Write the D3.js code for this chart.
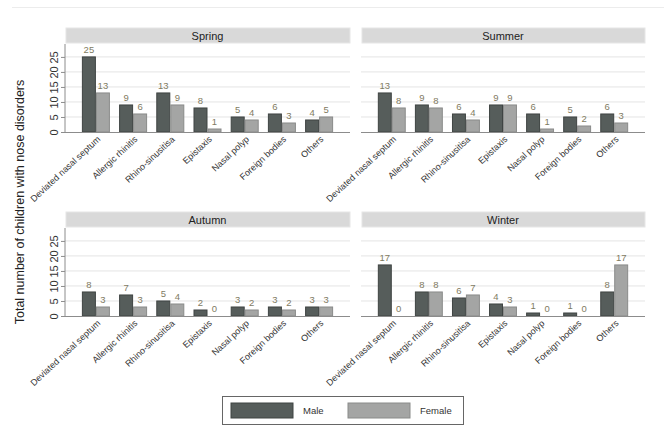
<!DOCTYPE html>
<html>
<head>
<meta charset="utf-8">
<script src="https://cdn.jsdelivr.net/npm/d3@7"></script>
<style>
  html, body { margin: 0; padding: 0; background: #fff; }
  svg { display: block; font-family: "Liberation Sans", Arial, sans-serif; }
</style>
</head>
<body>
<svg id="chart" width="664" height="432"></svg>
<script>
// Nose disorders in children by season and sex
const categories = ["Deviated nasal septum", "Allergic rhinitis", "Rhino-sinusitisa", "Epistaxis", "Nasal polyp", "Foreign bodies", "Others"];
const seasons = ["Spring", "Summer", "Autumn", "Winter"];
const maleSpring   = [25, 9, 13, 8, 5, 6, 4];
const femaleSpring = [13, 6, 9, 1, 4, 3, 5];
const maleSummer   = [13, 9, 6, 9, 6, 5, 6];
const femaleSummer = [8, 8, 4, 9, 1, 2, 3];
const maleAutumn   = [8, 7, 5, 2, 3, 3, 3];
const femaleAutumn = [3, 3, 4, 0, 2, 2, 3];
const maleWinter   = [17, 8, 6, 4, 1, 1, 8];
const femaleWinter = [0, 8, 7, 3, 0, 0, 17];
const yTicks = [0, 5, 10, 15, 20, 25];
const sexes = ["Male", "Female"];

const seriesBySeason = {
  Spring: [maleSpring, femaleSpring],
  Summer: [maleSummer, femaleSummer],
  Autumn: [maleAutumn, femaleAutumn],
  Winter: [maleWinter, femaleWinter]
};

const colors = { Male: "#565d5b", Female: "#a4a5a4" };
const strokes = { Male: "#3f4443", Female: "#8a8b8a" };

const svg = d3.select("#chart");

// faint rule across the top
svg.append("line").attr("x1", 12).attr("x2", 664).attr("y1", 7.5).attr("y2", 7.5)
  .attr("stroke", "#ececec").attr("stroke-width", 1);

// panel grid: columns and rows
const colX = [[65, 350], [361, 645]];
const rowY = [{ head: 28, top: 44, zero: 132 }, { head: 212, top: 228, zero: 316 }];
const headH = 15;

const y0 = d3.scaleLinear().domain([0, 29.3]);
const x = d3.scaleBand().domain(categories).paddingInner(0.247).paddingOuter(0.454);
const xs = d3.scaleBand().domain(sexes).padding(0);

seasons.forEach((season, i) => {
  const col = i % 2, row = Math.floor(i / 2);
  const [x0, x1] = colX[col];
  const r = rowY[row];
  const yS = y0.copy().range([r.zero, r.top]);
  const xB = x.copy().range([x0, x1]);
  const xSub = xs.copy().range([0, xB.bandwidth()]);
  const g = svg.append("g");

  // strip header
  g.append("rect").attr("x", x0 + 1).attr("y", r.head).attr("width", x1 - x0 - 1).attr("height", headH)
    .attr("fill", "#d9d9d9").attr("stroke", "#e6e6e6");
  g.append("text").attr("x", (x0 + x1) / 2).attr("y", r.head + headH / 2 + 4)
    .attr("text-anchor", "middle").attr("font-size", 11).attr("fill", "#222").text(season);

  // gridlines
  g.selectAll("line.grid").data(yTicks.filter(t => t > 0)).join("line")
    .attr("class", "grid")
    .attr("x1", x0).attr("x2", x1)
    .attr("y1", d => yS(d)).attr("y2", d => yS(d))
    .attr("stroke", "#e4e4e4").attr("stroke-width", 1);

  // bars
  const vals = seriesBySeason[season];
  const flat = [];
  categories.forEach((c, ci) => sexes.forEach((s, si) => flat.push({ c, s, v: vals[si][ci] })));

  g.selectAll("rect.bar").data(flat).join("rect")
    .attr("class", "bar")
    .attr("x", d => xB(d.c) + xSub(d.s) + 0.5)
    .attr("width", xSub.bandwidth() - 1)
    .attr("y", d => yS(d.v))
    .attr("height", d => yS(0) - yS(d.v))
    .attr("fill", d => colors[d.s])
    .attr("stroke", d => strokes[d.s]).attr("stroke-width", 1);

  // value labels
  g.selectAll("text.val").data(flat).join("text")
    .attr("class", "val")
    .attr("x", d => xB(d.c) + xSub(d.s) + xSub.bandwidth() / 2)
    .attr("y", d => yS(d.v) - 4)
    .attr("text-anchor", "middle").attr("font-size", 9.5).attr("fill", "#7f7b62")
    .text(d => d.v);

  // baseline
  g.append("line").attr("x1", x0).attr("x2", x1).attr("y1", r.zero + 0.5).attr("y2", r.zero + 0.5)
    .attr("stroke", "#8c8c8c").attr("stroke-width", 1);

  // category labels
  const xAxis = d3.axisBottom(xB).tickSize(0).tickPadding(0);
  const ax = g.append("g").attr("transform", `translate(0,${r.zero})`).call(xAxis);
  ax.select(".domain").remove();
  ax.selectAll("text")
    .attr("font-size", 9).attr("fill", "#333")
    .attr("text-anchor", "end")
    .attr("dy", 0)
    .attr("transform", "translate(5,8) rotate(-43)");

  // y axis on the left column only
  if (col === 0) {
    const yAxis = d3.axisLeft(yS).tickValues(yTicks).tickSize(4).tickPadding(3);
    const ay = g.append("g").attr("transform", `translate(${x0},0)`).call(yAxis);
    ay.select(".domain").attr("stroke", "#8c8c8c").attr("d", `M0,${r.top}V${r.zero}`);
    ay.selectAll(".tick line").attr("stroke", "#8c8c8c");
    ay.selectAll(".tick text")
      .attr("font-size", 11).attr("fill", "#333")
      .attr("text-anchor", "middle")
      .attr("x", 0).attr("dy", 0)
      .attr("transform", "translate(-11,0) rotate(-90)")
      .attr("dominant-baseline", "central");
  }
});

// axis title
svg.append("text")
  .attr("transform", "translate(24,202) rotate(-90)")
  .attr("text-anchor", "middle").attr("font-size", 12.5).attr("fill", "#222")
  .text("Total number of children with nose disorders");

// legend
const lg = svg.append("g");
lg.append("rect").attr("x", 222.5).attr("y", 396.5).attr("width", 241).attr("height", 28)
  .attr("fill", "#fff").attr("stroke", "#666").attr("stroke-width", 1);
const legX = d3.scaleOrdinal().domain(sexes).range([231, 348]);
sexes.forEach(s => {
  lg.append("rect").attr("x", legX(s)).attr("y", 403).attr("width", 62).attr("height", 15)
    .attr("fill", colors[s]).attr("stroke", strokes[s]);
  lg.append("text").attr("x", legX(s) + 72).attr("y", 414)
    .attr("font-size", 9.5).attr("fill", "#333").text(s);
});
</script>
</body>
</html>
